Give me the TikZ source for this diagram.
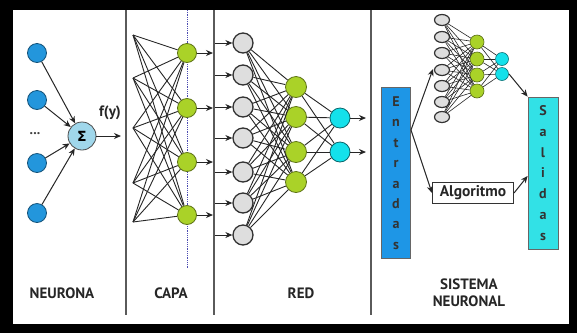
\documentclass[tikz,border=0pt]{standalone}
\usepackage{fontspec}
\setmainfont{PT Sans}
\newfontfamily\symfont{DejaVu Sans}
\usetikzlibrary{arrows.meta,shapes.geometric}
\definecolor{nblue}{RGB}{35,150,220}
\definecolor{sblue}{RGB}{160,215,235}
\definecolor{ngreen}{RGB}{170,210,40}
\definecolor{ngray}{RGB}{222,222,222}
\definecolor{ncyan}{RGB}{20,225,235}
\definecolor{boxblue}{RGB}{30,150,230}
\definecolor{boxcyan}{RGB}{50,225,230}
\definecolor{divgray}{RGB}{90,90,90}
\tikzset{
  bluen/.style={circle,fill=nblue,draw=nblue!55!black,line width=0.8pt,minimum size=19pt,inner sep=0pt},
  sigman/.style={circle,fill=sblue,draw=black!70,line width=0.8pt,minimum size=28pt,inner sep=0pt,font=\symfont\bfseries\fontsize{14}{14}\selectfont},
  greenn/.style={circle,fill=ngreen,draw=ngreen!55!black,line width=0.8pt,minimum size=19pt,inner sep=0pt},
  grayn/.style={circle,fill=ngray,draw=black!80,line width=1.3pt,minimum size=20pt,inner sep=0pt},
  cyann/.style={circle,fill=ncyan,draw=ncyan!45!black,line width=0.8pt,minimum size=20pt,inner sep=0pt},
  sgray/.style={ellipse,fill=ngray,draw=black!80,line width=1.2pt,minimum width=15pt,minimum height=11pt,inner sep=0pt},
  sgreen/.style={circle,fill=ngreen,draw=ngreen!50!black,line width=0.6pt,minimum size=14pt,inner sep=0pt},
  scyan/.style={circle,fill=ncyan,draw=ncyan!50!black,line width=0.6pt,minimum size=13pt,inner sep=0pt},
  mesh/.style={draw=black!85,line width=0.9pt},
  arr/.style={-{Stealth[length=7pt,width=6pt]},line width=1pt,black!85},
  lbl/.style={font=\bfseries\fontsize{15}{17}\selectfont,text=black!85},
  divider/.style={divgray,line width=1.3pt},
}
\begin{document}
\begin{tikzpicture}[x=1pt,y=-1pt]
\fill[black] (0,0) rectangle (577,333);
\fill[white] (13,10) rectangle (569,324);
\useasboundingbox (0,0) rectangle (577,333);
% dividers
\draw[divider] (126,10) -- (126,315);
\draw[divider] (214,10) -- (214,315);
\draw[divider] (371,10) -- (371,315);

% ===== NEURONA =====
\node[bluen] (b1) at (37,53) {};
\node[bluen] (b2) at (37,100) {};
\node[bluen] (b3) at (37,163) {};
\node[bluen] (b4) at (37,213) {};
\node[font=\bfseries\fontsize{14}{14}\selectfont,text=black!75] (dots) at (35,134) {...};
\node[sigman] (sig) at (82,136) {Σ};
\foreach \i in {1,...,4} \draw[arr] (b\i) -- (sig);
\coordinate (sigout) at (121,136);
\draw[arr] (sig) -- (sigout);
\node[font=\fontsize{15}{15}\selectfont\bfseries,text=black!85] (fy) at (110,113) {f(y)};
\node[lbl] (lneur) at (62,293) {NEURONA};

% ===== CAPA =====
\draw[blue!40!gray,densely dotted,line width=0.8pt] (187,10) -- (187,268);
\foreach \y [count=\k] in {35,78,128,183,222} \coordinate (cl\k) at (133,\y);
\node[greenn] (c1) at (187,53) {};
\node[greenn] (c2) at (187,108) {};
\node[greenn] (c3) at (187,162) {};
\node[greenn] (c4) at (187,215) {};
\foreach \k in {1,...,5} \foreach \j in {1,...,4} \draw[mesh] (cl\k) -- (c\j);
\foreach \j/\y in {1/53,2/108,3/162,4/215} {
  \coordinate (co\j) at (213,\y);
  \draw[arr] (c\j) -- (co\j);
}
\node[lbl] (lcapa) at (171,293) {CAPA};

% ===== RED =====
\foreach \y [count=\k] in {43,75,107,138,172,203,235} {
  \node[grayn] (r\k) at (243,\y) {};
  \coordinate (ri\k) at (215,\y);
  \draw[arr] (ri\k) -- (r\k);
}
\foreach \y [count=\k] in {87,117,152,182} \node[greenn,minimum size=21pt] (rg\k) at (296,\y) {};
\foreach \y [count=\k] in {118,152} \node[cyann] (rc\k) at (340,\y) {};
\foreach \k in {1,...,7} \foreach \j in {1,...,4} \draw[mesh] (r\k) -- (rg\j);
\foreach \k in {1,...,4} \foreach \j in {1,2} \draw[mesh] (rg\k) -- (rc\j);
\foreach \j/\y in {1/118,2/152} {
  \coordinate (ro\j) at (366,\y);
  \draw[arr] (rc\j) -- (ro\j);
}
\node[lbl] (lred) at (301,293) {RED};

% ===== SISTEMA NEURONAL =====
\node[draw=black!60,fill=boxblue,line width=0.8pt,minimum width=29pt,minimum height=171pt,inner sep=0pt] (ent) at (396,173) {};
\node[align=center,font=\bfseries\fontsize{14}{20.4}\selectfont,text=black!80] at (ent) {E\\n\\t\\r\\a\\d\\a\\s};
\node[draw=black!60,fill=boxcyan,line width=0.8pt,minimum width=30pt,minimum height=152pt,inner sep=0pt] (sal) at (543,173) {};
\node[align=center,font=\bfseries\fontsize{14}{20.7}\selectfont,text=black!80] at (sal) {S\\a\\l\\i\\d\\a\\s};
\node[draw=black!80,line width=1pt,minimum width=81pt,minimum height=21pt,inner sep=0pt,font=\bfseries\fontsize{15.5}{15.5}\selectfont,text=black!85] (alg) at (473,193) {Algoritmo};

\foreach \y [count=\k] in {20,37,53,70,86,102,117} \node[sgray] (sg\k) at (442,\y) {};
\foreach \y [count=\k] in {42,59,75,91} \node[sgreen] (sn\k) at (477,\y) {};
\foreach \y [count=\k] in {59,74} \node[scyan] (sc\k) at (502,\y) {};
\foreach \k in {1,...,7} \foreach \j in {1,...,4} \draw[mesh,line width=0.6pt] (sg\k) -- (sn\j);
\foreach \k in {1,...,4} \foreach \j in {1,2} \draw[mesh,line width=0.6pt] (sn\k) -- (sc\j);

\coordinate (eo) at (411,130);
\coordinate (nin) at (433,69);
\draw[arr] (eo) -- (nin);
\draw[arr] (eo) -- (alg.west);
\coordinate (nout) at (509,74);
\draw[arr] (nout) -- (sal.north west);
\draw[arr] (alg.east) -- (sal.west |- 0,176);

\node[lbl,align=center] (lsis) at (469,293) {SISTEMA\\NEURONAL};
\end{tikzpicture}
\end{document}
